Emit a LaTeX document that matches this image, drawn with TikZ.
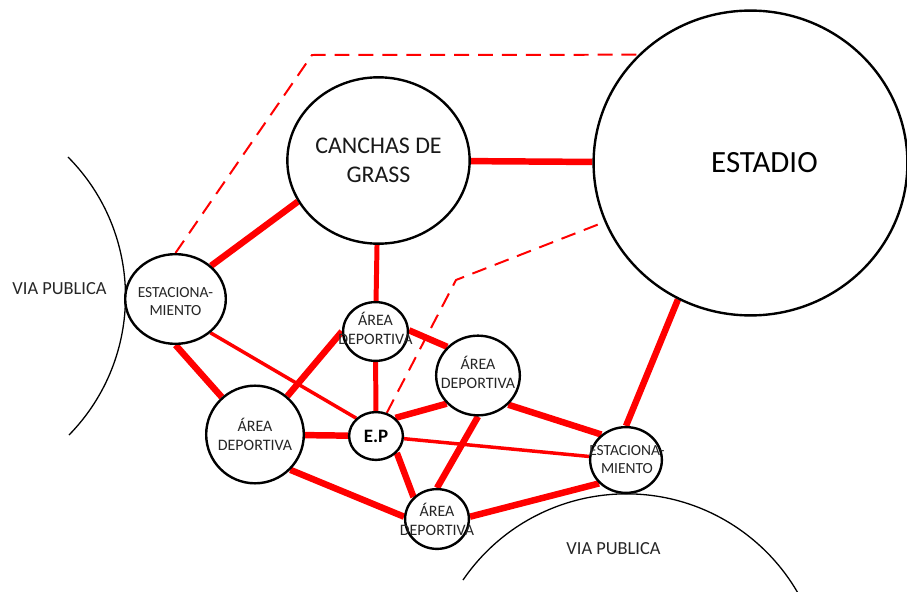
\documentclass[tikz,border=0pt]{standalone}
\usepackage{fontspec}
\setmainfont{Carlito}
\usetikzlibrary{shapes.geometric,backgrounds}
\tikzset{%
    zon/.style={ellipse, draw=black, line width=2.4pt, fill=white, inner sep=0pt},
    txt/.style={align=center, text=black!85, font=\fontsize{16}{19}\selectfont},
    tes/.style={align=center, text=black!85, font=\fontsize{15.5}{18}\selectfont},
    vtx/.style={text=black!85, font=\fontsize{18.5}{22}\selectfont},
    fue/.style={red, line width=6.5pt},
    med/.style={red, line width=5pt},
    deb/.style={red, line width=3.5pt},
    das/.style={red, line width=2pt, dash pattern=on 15pt off 9pt},
    via/.style={black, line width=1.3pt},
}
\begin{document}
\begin{tikzpicture}[x=1bp,y=-1bp]
    \useasboundingbox (0,0) rectangle (907,592);
    \draw [via] (68,157) arc[start angle=-44.8, end angle=44.4, radius=198];
    \draw [via] (463,580) arc[start angle=-145.6, end angle=-28, radius=198];
    \node [vtx] (via1) at (59.5,289) {VIA PUBLICA};
    \node [vtx] (via2) at (613.5,548.5) {VIA PUBLICA};
    \node [zon, minimum width=315, minimum height=306, label={[text=black, font=\fontsize{31}{36}\selectfont, xshift=14pt]center:ESTADIO}] (est) at (750.5,163) {};
    \node [zon, minimum width=183, minimum height=167, label={[align=center, text=black!90, font=\fontsize{24}{29}\selectfont]center:CANCHAS DE\\GRASS}] (can) at (378.5,160.5) {};
    \node [zon, minimum width=101, minimum height=90, label={[tes, yshift=-3pt]center:ESTACIONA-\\MIENTO}] (estL) at (175.5,299) {};
    \node [zon, minimum width=72, minimum height=66, label={[tes, xshift=1pt]center:ESTACIONA-\\MIENTO}] (estR) at (626,460) {};
    \node [zon, minimum width=65, minimum height=59, label={[txt, yshift=3pt]center:ÁREA\\DEPORTIVA}] (aTop) at (375.5,331.5) {};
    \node [zon, minimum width=84, minimum height=80, label={[txt, yshift=3pt]center:ÁREA\\DEPORTIVA}] (aDer) at (478,375.5) {};
    \node [zon, minimum width=98, minimum height=98, label={[txt]center:ÁREA\\DEPORTIVA}] (aLef) at (255,434.5) {};
    \node [zon, minimum width=64, minimum height=60, label={[txt]center:ÁREA\\DEPORTIVA}] (aBot) at (437,519) {};
    \node [zon, minimum width=54, minimum height=48, font=\bfseries\fontsize{19}{22}\selectfont] (ep) at (376,436) {E.P};
    \coordinate (k1) at (312,55);
    \coordinate (k2) at (456,280);
    \begin{pgfonlayer}{background}
    \draw [fue] (estL.43) -- (can.207);
    \draw [fue] (can) -- (est);
    \draw [med] (can) -- (aTop);
    \draw [fue] (estL.south) -- (aLef);
    \draw [fue] (aLef) -- (aTop.west);
    \draw [fue] (aLef) -- (ep);
    \draw [fue] (aLef.-45) -- (aBot.176);
    \draw [med] (aTop) -- (ep);
    \draw [fue] (aTop.2) -- (aDer.137);
    \draw [fue] (ep.43) -- (aDer.222);
    \draw [fue] (ep.-39) -- (aBot.137);
    \draw [fue] (aDer.south) -- (aBot.north);
    \draw [fue] (aDer.-44) -- (estR.134);
    \draw [fue] (aBot.4) -- (estR.221);
    \draw [fue] (est.242) -- (estR.north);
    \draw [deb] (estL.-44) -- (ep.138);
    \draw [deb] (ep) -- (estR);
    \draw [das] (estL.north) -- (k1) -- (est.136);
    \draw [das] (ep.65) -- (k2) -- (est.202);
    \end{pgfonlayer}
\end{tikzpicture}
\end{document}
